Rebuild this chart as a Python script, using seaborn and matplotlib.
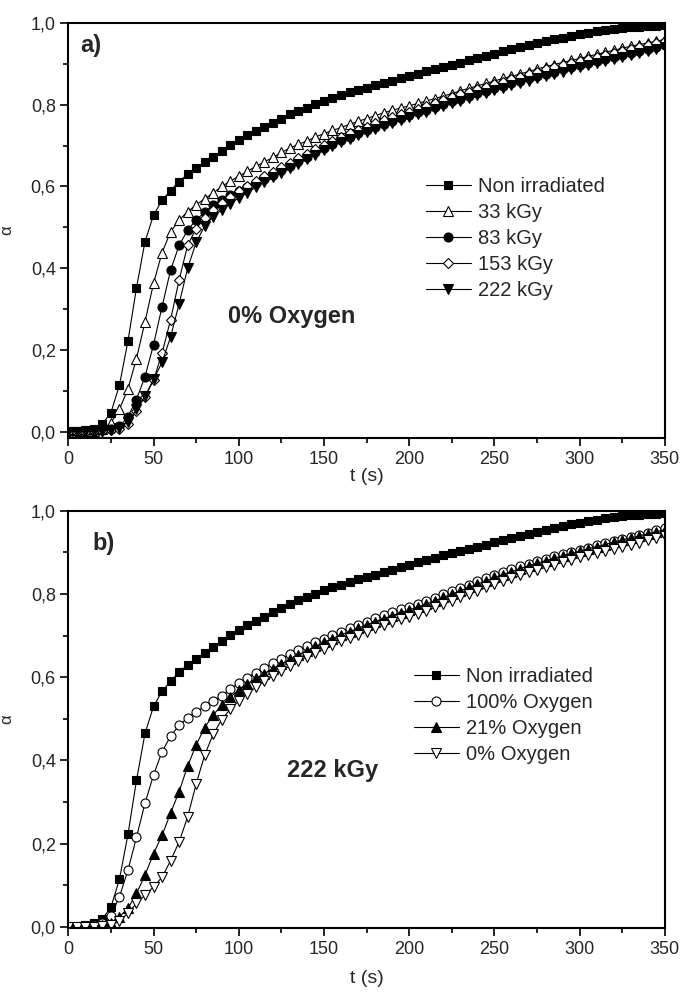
import numpy as np
import pandas as pd
import matplotlib
matplotlib.use("Agg")
import matplotlib.pyplot as plt
from matplotlib.ticker import MultipleLocator, FuncFormatter
import seaborn as sns

# ---------------- data (one value every 5 s) ----------------
time_s = list(range(0, 355, 5))

non_irradiated = [0.000, 0.002, 0.004, 0.008, 0.019, 0.047, 0.114, 0.222, 0.352, 0.465,
                  0.530, 0.566, 0.590, 0.612, 0.630, 0.645, 0.659, 0.672, 0.686, 0.701,
                  0.713, 0.725, 0.735, 0.746, 0.756, 0.766, 0.776, 0.785, 0.793, 0.801,
                  0.809, 0.817, 0.823, 0.830, 0.836, 0.841, 0.847, 0.853, 0.859, 0.865,
                  0.871, 0.876, 0.882, 0.887, 0.893, 0.898, 0.903, 0.908, 0.914, 0.919,
                  0.925, 0.930, 0.935, 0.940, 0.945, 0.950, 0.955, 0.960, 0.964, 0.968,
                  0.972, 0.976, 0.979, 0.982, 0.985, 0.988, 0.990, 0.991, 0.992, 0.993,
                  0.994]

dose_33 = [0.000, 0.000, 0.001, 0.002, 0.006, 0.022, 0.055, 0.105, 0.179, 0.269,
           0.363, 0.438, 0.489, 0.518, 0.538, 0.555, 0.570, 0.584, 0.600, 0.613,
           0.625, 0.637, 0.649, 0.660, 0.671, 0.683, 0.694, 0.703, 0.711, 0.721,
           0.729, 0.737, 0.744, 0.752, 0.759, 0.766, 0.773, 0.780, 0.786, 0.792,
           0.797, 0.803, 0.809, 0.815, 0.821, 0.827, 0.834, 0.840, 0.846, 0.852,
           0.858, 0.864, 0.869, 0.875, 0.881, 0.887, 0.893, 0.898, 0.903, 0.908,
           0.913, 0.918, 0.923, 0.928, 0.933, 0.938, 0.943, 0.947, 0.951, 0.955,
           0.960]

dose_83 = [0.000, 0.000, 0.001, 0.002, 0.004, 0.007, 0.013, 0.037, 0.079, 0.135,
           0.213, 0.306, 0.395, 0.456, 0.493, 0.518, 0.537, 0.554, 0.567, 0.578,
           0.589, 0.599, 0.609, 0.619, 0.629, 0.640, 0.650, 0.661, 0.672, 0.683,
           0.694, 0.704, 0.713, 0.722, 0.730, 0.737, 0.745, 0.753, 0.760, 0.768,
           0.775, 0.781, 0.788, 0.795, 0.801, 0.808, 0.815, 0.821, 0.828, 0.834,
           0.840, 0.846, 0.852, 0.858, 0.864, 0.870, 0.876, 0.881, 0.886, 0.891,
           0.896, 0.901, 0.906, 0.911, 0.916, 0.921, 0.926, 0.931, 0.936, 0.940,
           0.945]

dose_153 = [0.000, 0.000, 0.000, 0.001, 0.002, 0.004, 0.007, 0.018, 0.052, 0.086,
            0.126, 0.192, 0.274, 0.371, 0.456, 0.497, 0.522, 0.542, 0.559, 0.574,
            0.588, 0.601, 0.613, 0.625, 0.636, 0.647, 0.658, 0.669, 0.680, 0.691,
            0.702, 0.712, 0.721, 0.730, 0.738, 0.746, 0.754, 0.762, 0.769, 0.776,
            0.783, 0.790, 0.797, 0.804, 0.811, 0.818, 0.825, 0.831, 0.838, 0.844,
            0.850, 0.856, 0.862, 0.868, 0.874, 0.880, 0.886, 0.891, 0.896, 0.901,
            0.906, 0.911, 0.916, 0.921, 0.926, 0.931, 0.936, 0.941, 0.946, 0.950,
            0.955]

dose_222 = [0.000, 0.000, 0.000, 0.001, 0.002, 0.004, 0.009, 0.024, 0.055, 0.087,
            0.128, 0.170, 0.232, 0.313, 0.400, 0.463, 0.503, 0.526, 0.543, 0.558,
            0.572, 0.585, 0.598, 0.610, 0.622, 0.633, 0.644, 0.655, 0.666, 0.678,
            0.689, 0.699, 0.708, 0.717, 0.725, 0.732, 0.740, 0.748, 0.755, 0.763,
            0.770, 0.776, 0.783, 0.790, 0.796, 0.803, 0.810, 0.816, 0.823, 0.829,
            0.835, 0.841, 0.847, 0.853, 0.859, 0.865, 0.871, 0.876, 0.881, 0.886,
            0.891, 0.896, 0.901, 0.906, 0.911, 0.916, 0.921, 0.926, 0.931, 0.935,
            0.940]

oxygen_100 = [0.000, 0.000, 0.001, 0.003, 0.008, 0.026, 0.072, 0.136, 0.215, 0.297,
              0.365, 0.421, 0.458, 0.485, 0.502, 0.517, 0.530, 0.543, 0.556, 0.571,
              0.586, 0.599, 0.611, 0.623, 0.634, 0.645, 0.655, 0.665, 0.675, 0.684,
              0.693, 0.702, 0.710, 0.718, 0.726, 0.734, 0.742, 0.749, 0.756, 0.763,
              0.770, 0.777, 0.784, 0.791, 0.799, 0.807, 0.815, 0.823, 0.831, 0.839,
              0.846, 0.853, 0.860, 0.867, 0.873, 0.879, 0.885, 0.891, 0.897, 0.902,
              0.907, 0.912, 0.917, 0.922, 0.928, 0.933, 0.938, 0.943, 0.948, 0.953,
              0.958]

oxygen_21 = [0.000, 0.000, 0.000, 0.001, 0.003, 0.008, 0.024, 0.044, 0.080, 0.124,
             0.176, 0.220, 0.273, 0.325, 0.386, 0.437, 0.479, 0.509, 0.533, 0.552,
             0.569, 0.584, 0.597, 0.609, 0.621, 0.632, 0.643, 0.654, 0.664, 0.674,
             0.684, 0.693, 0.702, 0.710, 0.718, 0.726, 0.734, 0.741, 0.748, 0.755,
             0.762, 0.769, 0.776, 0.784, 0.792, 0.800, 0.808, 0.816, 0.824, 0.832,
             0.840, 0.847, 0.854, 0.861, 0.868, 0.874, 0.880, 0.886, 0.892, 0.898,
             0.903, 0.909, 0.914, 0.919, 0.925, 0.930, 0.935, 0.940, 0.945, 0.950,
             0.955]

oxygen_0 = [0.000, 0.000, 0.000, 0.000, 0.001, 0.004, 0.013, 0.033, 0.056, 0.076,
            0.096, 0.119, 0.159, 0.204, 0.264, 0.343, 0.413, 0.463, 0.498, 0.523,
            0.543, 0.560, 0.576, 0.590, 0.603, 0.615, 0.627, 0.638, 0.649, 0.659,
            0.668, 0.677, 0.686, 0.694, 0.702, 0.710, 0.718, 0.725, 0.732, 0.739,
            0.746, 0.753, 0.760, 0.768, 0.776, 0.784, 0.792, 0.800, 0.808, 0.816,
            0.824, 0.831, 0.838, 0.845, 0.852, 0.858, 0.864, 0.870, 0.876, 0.882,
            0.888, 0.893, 0.898, 0.903, 0.909, 0.914, 0.919, 0.924, 0.929, 0.934,
            0.939]

labels_a = ["Non irradiated", "33 kGy", "83 kGy", "153 kGy", "222 kGy"]
labels_b = ["Non irradiated", "100% Oxygen", "21% Oxygen", "0% Oxygen"]
x_ticks = [0, 50, 100, 150, 200, 250, 300, 350]
y_ticks = [0.0, 0.2, 0.4, 0.6, 0.8, 1.0]

# ---------------- styling ----------------
sns.set_theme(style="ticks")
plt.rcParams["font.family"] = ["Liberation Sans", "DejaVu Sans"]
plt.rcParams["axes.linewidth"] = 1.5
plt.rcParams["xtick.direction"] = "out"
plt.rcParams["ytick.direction"] = "out"

fig = plt.figure(figsize=(6.81, 9.94), dpi=100)
ax_a = fig.add_axes([0.1003, 0.559, 0.876, 0.418])
ax_b = fig.add_axes([0.1003, 0.066, 0.876, 0.420])

# marker styles: (marker, filled?, size)
styles_a = [("s", True, 5.5), ("^", False, 7.0), ("o", True, 6.5), ("D", False, 5.5), ("v", True, 7.0)]
styles_b = [("s", True, 5.5), ("o", False, 6.5), ("^", True, 7.0), ("v", False, 7.0)]

series_a = [non_irradiated, dose_33, dose_83, dose_153, dose_222]
series_b = [non_irradiated, oxygen_100, oxygen_21, oxygen_0]


def draw(ax, series, labels, styles):
    for vals, lab, (mk, filled, ms) in zip(series, labels, styles):
        df = pd.DataFrame({"t": time_s, "alpha": vals})
        sns.lineplot(data=df, x="t", y="alpha", ax=ax, color="black", linewidth=0.8,
                     marker=mk, markersize=ms, markeredgewidth=0.8,
                     markeredgecolor="black",
                     markerfacecolor="black" if filled else "white",
                     label=lab, legend=False, sort=False)


draw(ax_a, series_a, labels_a, styles_a)
draw(ax_b, series_b, labels_b, styles_b)

fmt = FuncFormatter(lambda v, p: f"{v:.1f}".replace(".", ","))
for ax, ylo, lp in ((ax_a, -0.016, 0), (ax_b, -0.004, 9)):
    ax.set_xlim(0, 350)
    ax.set_ylim(ylo, 1.0)
    ax.set_xticks(x_ticks)
    ax.set_yticks(y_ticks)
    ax.xaxis.set_minor_locator(MultipleLocator(25))
    ax.yaxis.set_minor_locator(MultipleLocator(0.1))
    ax.yaxis.set_major_formatter(fmt)
    ax.tick_params(which="major", length=6, width=1.2, labelsize=13, pad=3, color="black")
    ax.tick_params(which="minor", length=3.5, width=1.2, color="black")
    for s in ax.spines.values():
        s.set_visible(True)
        s.set_color("black")
        s.set_linewidth(1.5)
    ax.set_xlabel("t (s)", fontsize=14, labelpad=lp)
    ax.set_ylabel("α", fontsize=12, labelpad=12)

leg_kw = dict(loc="upper left", frameon=False, fontsize=14.5, handlelength=2.2,
              handletextpad=0.35, labelspacing=0.34, borderaxespad=0, borderpad=0)
ax_a.legend(bbox_to_anchor=(0.600, 0.628), **leg_kw)
ax_b.legend(bbox_to_anchor=(0.580, 0.625), **leg_kw)

ax_a.text(0.02, 0.946, "a)", transform=ax_a.transAxes, fontsize=17, fontweight="bold",
          va="center", ha="left")
ax_a.text(0.268, 0.294, "0% Oxygen", transform=ax_a.transAxes, fontsize=17,
          fontweight="bold", va="center", ha="left")
ax_b.text(0.04, 0.923, "b)", transform=ax_b.transAxes, fontsize=17, fontweight="bold",
          va="center", ha="left")
ax_b.text(0.367, 0.379, "222 kGy", transform=ax_b.transAxes, fontsize=17,
          fontweight="bold", va="center", ha="left")

fig.savefig("out.png", dpi=100, facecolor="white")
